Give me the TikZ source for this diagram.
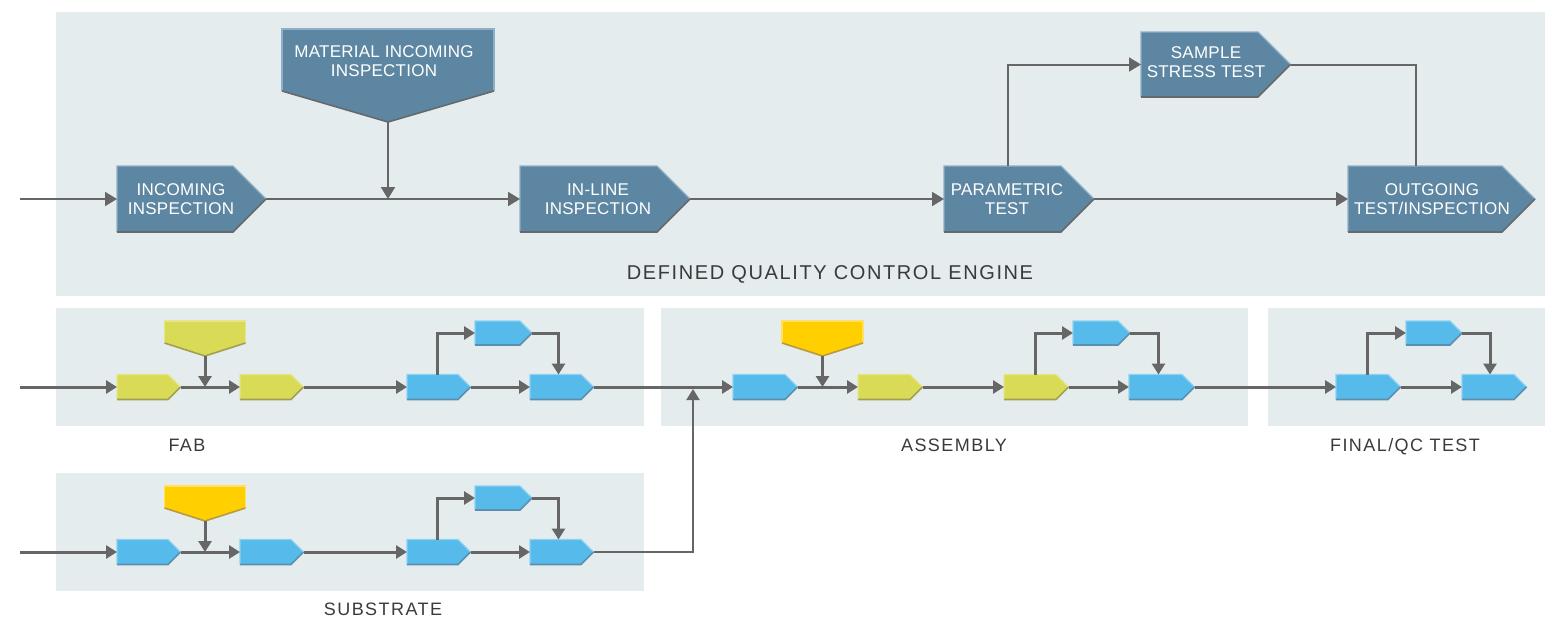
\documentclass[tikz,border=0pt]{standalone}
\usepackage{fontspec}
\setmainfont{Liberation Sans}
\newfontfamily\lblfont[LetterSpace=8]{Liberation Sans}
\newfontfamily\boxfont[LetterSpace=1.5]{Liberation Sans}
\usetikzlibrary{arrows.meta}
\definecolor{panel}{HTML}{E4ECEE}
\definecolor{navyF}{HTML}{5C86A1}
\definecolor{navyL}{HTML}{8EAFC5}
\definecolor{navyD}{HTML}{66696B}
\definecolor{bluF}{HTML}{56BAEA}
\definecolor{bluL}{HTML}{8CD2F2}
\definecolor{bluD}{HTML}{5B8FAE}
\definecolor{yelF}{HTML}{D9DB56}
\definecolor{yelL}{HTML}{E5E68A}
\definecolor{yelD}{HTML}{A0A052}
\definecolor{orgF}{HTML}{FFCF00}
\definecolor{orgL}{HTML}{FFE060}
\definecolor{orgD}{HTML}{B89A40}
\definecolor{linegray}{HTML}{666666}
\definecolor{labelgray}{HTML}{3A3A3A}
\newcommand\flowbox[6]{%
  \fill[#6F] ({#2},{#3-#5}) -- ({#2+#4},{#3-#5}) -- ({#2+#4+#5},{#3}) -- ({#2+#4},{#3+#5}) -- ({#2},{#3+#5}) -- cycle;
  \draw[#6L, line width=1.2pt] ({#2},{#3+#5}) -- ({#2},{#3-#5}) -- ({#2+#4},{#3-#5}) -- ({#2+#4+#5},{#3});
  \draw[#6D, line width=1.6pt] ({#2},{#3+#5}) -- ({#2+#4},{#3+#5}) -- ({#2+#4+#5},{#3});
  \node[anchorbox, minimum width=#4pt, minimum height=2*#5pt] (#1) at ({#2+#4/2},{#3}) {};
  \coordinate (#1-tip) at ({#2+#4+#5},{#3});
}
\newcommand\downpent[7]{%
  \fill[#7F] ({#2-#4},{#3}) -- ({#2+#4},{#3}) -- ({#2+#4},{#3+#5}) -- ({#2},{#3+#5+#6}) -- ({#2-#4},{#3+#5}) -- cycle;
  \draw[#7L, line width=1.2pt] ({#2-#4},{#3+#5}) -- ({#2-#4},{#3}) -- ({#2+#4},{#3}) -- ({#2+#4},{#3+#5});
  \draw[#7D, line width=1.6pt] ({#2-#4},{#3+#5}) -- ({#2},{#3+#5+#6}) -- ({#2+#4},{#3+#5});
  \node[anchorbox, minimum width=2*#4pt, minimum height=#5pt] (#1) at ({#2},{#3+#5/2}) {};
  \coordinate (#1-tip) at ({#2},{#3+#5+#6});
}
\tikzset{
  anchorbox/.style={rectangle, inner sep=0pt, outer sep=0pt, draw=none},
  panelbox/.style={fill=panel, draw=none},
  boxtext/.style={text=white, align=center, inner sep=0pt, font=\boxfont\fontsize{17}{19}\selectfont},
  grouplabel/.style={text=labelgray, inner sep=0pt, anchor=base, font=\lblfont\fontsize{18}{20}\selectfont},
  biglabel/.style={text=labelgray, inner sep=0pt, anchor=base, font=\lblfont\fontsize{20}{22}\selectfont},
  conn/.style={draw=linegray, line width=2pt, -{Triangle[length=12pt,width=14pt]}},
  plain/.style={draw=linegray, line width=2pt},
  sconn/.style={draw=linegray, line width=3pt, -{Triangle[length=11pt,width=13pt]}},
}
\begin{document}
\begin{tikzpicture}[x=1pt, y=-1pt]
\useasboundingbox (0,0) rectangle (1545,616);
% panels
\fill[panelbox] (56,12) rectangle (1545,296);
\fill[panelbox] (56,308) rectangle (644,426);
\fill[panelbox] (661,308) rectangle (1248,426);
\fill[panelbox] (1268,308) rectangle (1545,426);
\fill[panelbox] (56,473) rectangle (644,591);

% ---------- top engine ----------
\flowbox{inc}{117}{199}{116}{33}{navy}
\flowbox{inl}{520}{199}{137}{33}{navy}
\flowbox{par}{944}{199}{117}{33}{navy}
\flowbox{sam}{1141}{64.5}{117}{32.5}{navy}
\flowbox{out}{1348}{199}{154}{33}{navy}
\downpent{mat}{388}{29}{106}{62}{31}{navy}
\node[boxtext] (inc-t) at (181,199) {INCOMING\\INSPECTION};
\node[boxtext] (inl-t) at (598,199) {IN-LINE\\INSPECTION};
\node[boxtext] (par-t) at (1007,199) {PARAMETRIC\\TEST};
\node[boxtext] (sam-t) at (1206,62) {SAMPLE\\STRESS TEST};
\node[boxtext] (out-t) at (1432,199) {OUTGOING\\TEST/INSPECTION};
\node[boxtext] (mat-t) at (384,61) {MATERIAL INCOMING\\INSPECTION};
\node[biglabel] (eng) at (830,279) {DEFINED QUALITY CONTROL ENGINE};

\coordinate (in0) at (20,199);
\draw[conn] (in0) -- (inc.west);
\draw[conn] (inc-tip) -- (inl.west);
\draw[conn] (mat-tip) -- (mat-tip |- inc.center);
\draw[conn] (inl-tip) -- (par.west);
\draw[conn] ([xshift=5pt]par.north) |- (sam.west);
\draw[plain] (sam-tip) -| ([xshift=-9pt]out.north);
\draw[conn] (par-tip) -- (out.west);

% ---------- FAB ----------
\flowbox{f1}{117}{387}{51}{12.5}{yel}
\flowbox{f2}{240}{387}{51}{12.5}{yel}
\flowbox{f3}{407}{387}{51}{12.5}{blu}
\flowbox{fs}{475}{333}{45}{12}{blu}
\flowbox{f4}{530}{387}{51}{12.5}{blu}
\downpent{fm}{205}{321}{40.5}{22}{13}{yel}
\coordinate (fin) at (20,387);
\draw[sconn] (fin) -- (f1.west);
\draw[sconn] (f1-tip) -- (f2.west);
\draw[sconn] (fm-tip) -- (fm-tip |- f1.center);
\draw[sconn] (f2-tip) -- (f3.west);
\draw[sconn] ([xshift=5pt]f3.north) |- (fs.west);
\draw[sconn] (fs-tip) -| ([xshift=3pt]f4.north);
\draw[sconn] (f3-tip) -- (f4.west);
\node[grouplabel] (fab) at (187,451) {FAB};

% ---------- ASSEMBLY ----------
\flowbox{a1}{733}{387}{52}{12.5}{blu}
\flowbox{a2}{858}{387}{52}{12.5}{yel}
\flowbox{a3}{1004}{387}{52}{12.5}{yel}
\flowbox{as}{1073}{333}{45}{12}{blu}
\flowbox{a4}{1129}{387}{53}{12.5}{blu}
\downpent{am}{822.5}{321}{40.5}{22}{13}{org}
\draw[sconn] (f4-tip) -- (a1.west);
\draw[sconn] (a1-tip) -- (a2.west);
\draw[sconn] (am-tip) -- (am-tip |- a1.center);
\draw[sconn] (a2-tip) -- (a3.west);
\draw[sconn] ([xshift=5pt]a3.north) |- (as.west);
\draw[sconn] (as-tip) -| ([xshift=3pt]a4.north);
\draw[sconn] (a3-tip) -- (a4.west);
\node[grouplabel] (asm) at (954,451) {ASSEMBLY};

% ---------- FINAL/QC ----------
\flowbox{q1}{1336}{387}{52}{12.5}{blu}
\flowbox{qs}{1406}{333}{44}{12}{blu}
\flowbox{q2}{1462}{387}{52}{12.5}{blu}
\draw[sconn] (a4-tip) -- (q1.west);
\draw[sconn] ([xshift=5pt]q1.north) |- (qs.west);
\draw[sconn] (qs-tip) -| ([xshift=2pt]q2.north);
\draw[sconn] (q1-tip) -- (q2.west);
\node[grouplabel] (fqc) at (1405,451) {FINAL/QC TEST};

% ---------- SUBSTRATE ----------
\flowbox{s1}{117}{552}{51}{12.5}{blu}
\flowbox{s2}{240}{552}{51}{12.5}{blu}
\flowbox{s3}{407}{552}{51}{12.5}{blu}
\flowbox{ss}{475}{498}{45}{12}{blu}
\flowbox{s4}{530}{552}{51}{12.5}{blu}
\downpent{sm}{205}{486}{40.5}{22}{13}{org}
\coordinate (sin) at (20,552);
\draw[sconn] (sin) -- (s1.west);
\draw[sconn] (s1-tip) -- (s2.west);
\draw[sconn] (sm-tip) -- (sm-tip |- s1.center);
\draw[sconn] (s2-tip) -- (s3.west);
\draw[sconn] ([xshift=5pt]s3.north) |- (ss.west);
\draw[sconn] (ss-tip) -| ([xshift=3pt]s4.north);
\draw[sconn] (s3-tip) -- (s4.west);
\coordinate (join) at (693,389);
\draw[draw=linegray, line width=2pt, -{Triangle[length=11pt,width=13pt]}] (s4-tip) -| (join);
\node[grouplabel] (sub) at (383,615) {SUBSTRATE};
\end{tikzpicture}
\end{document}
